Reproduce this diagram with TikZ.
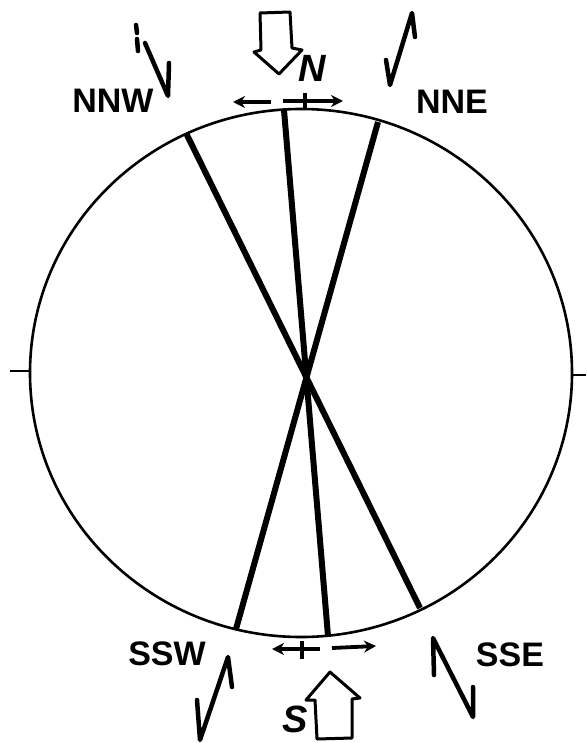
\documentclass[tikz,border=0pt]{standalone}
\usepackage{fontspec}
\setmainfont{Liberation Sans}
\usetikzlibrary{arrows.meta}
\tikzset{
  fault/.style={line width=6pt, line cap=butt},
  rim/.style={line width=2.6pt},
  bolt/.style={line width=4.5pt, line join=round, line cap=round},
  smallarrow/.style={line width=3.8pt, -{Stealth[length=12pt,width=12pt]}},
  bigarrow/.style={line width=3pt, line join=round},
  dirlabel/.style={font=\fontsize{34}{34}\selectfont\bfseries, inner sep=0pt},
}
\begin{document}
\begin{tikzpicture}[x=1pt,y=-1pt]
\useasboundingbox (0,0) rectangle (586,743);
% circle
\coordinate (C) at (301,373);
\draw[rim] (C) ellipse [x radius=271, y radius=264];
\coordinate (tl1) at (10,371); \coordinate (tl2) at (31,371);
\coordinate (tr1) at (572,375); \coordinate (tr2) at (586,375);
\draw[rim] (tl1) -- (tl2);
\draw[rim] (tr1) -- (tr2);
% fault lines
\coordinate (pNNW) at (186,133); \coordinate (pSSE) at (420,608);
\coordinate (pN) at (284,110);   \coordinate (pS) at (328,636);
\coordinate (pNNE) at (378,122); \coordinate (pSSW) at (236,629);
\draw[fault] (pNNW) -- (pSSE);
\draw[fault] (pN) -- (pS);
\draw[fault] (pNNE) -- (pSSW);
% top small arrows
\coordinate (ta1) at (271,102); \coordinate (ta2) at (233,102);
\coordinate (ta3) at (283,101); \coordinate (ta4) at (343,101);
\coordinate (tt1) at (305,93);  \coordinate (tt2) at (305,108);
\draw[smallarrow] (ta1) -- (ta2);
\draw[smallarrow] (ta3) -- (ta4);
\draw[line width=3.5pt] (tt1) -- (tt2);
% bottom small arrows
\coordinate (ba1) at (320,649); \coordinate (ba2) at (272,649);
\coordinate (ba3) at (332,648); \coordinate (ba4) at (376,646);
\coordinate (bt1) at (302,641); \coordinate (bt2) at (302,659);
\draw[smallarrow] (ba1) -- (ba2);
\draw[smallarrow] (ba3) -- (ba4);
\draw[line width=3.5pt] (bt1) -- (bt2);
% big outline arrows
\draw[bigarrow] (260,13) -- (290,12) -- (292,48) -- (302,50) -- (279,74) -- (254,52) -- (261,50) -- cycle;
\draw[bigarrow] (330,672) -- (360,698) -- (352,699) -- (352,738) -- (317,739) -- (315,700) -- (306,700) -- cycle;
% labels
\node[dirlabel, font=\fontsize{38}{38}\selectfont\bfseries\itshape] (lN) at (312,68) {N};
\node[dirlabel, font=\fontsize{38}{38}\selectfont\bfseries\itshape] (lS) at (295,719) {S};
\node[dirlabel] (lNNW) at (113,101) {NNW};
\node[dirlabel] (lNNE) at (452,102) {NNE};
\node[dirlabel] (lSSW) at (167,654) {SSW};
\node[dirlabel] (lSSE) at (510,655) {SSE};
% slip symbols
\draw[bolt] (136,25) -- (137,33);
\draw[bolt] (137,39) -- (138,51);
\draw[bolt] (145,43) -- (168,96) -- (169,63);
\draw[bolt] (386,60) -- (390,85) -- (412,13) -- (415,37);
\draw[bolt] (197,700) -- (200,740) -- (228,657) -- (232,687);
\draw[bolt] (434,675) -- (433,638) -- (473,717) -- (473,687);
\end{tikzpicture}
\end{document}
